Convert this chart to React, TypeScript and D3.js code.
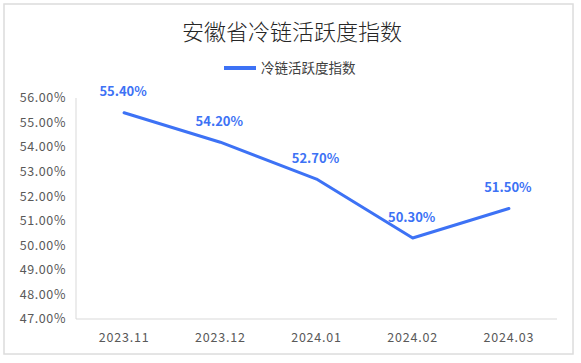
import React from "react";
import * as d3 from "d3";

const categories = ["2023.11", "2023.12", "2024.01", "2024.02", "2024.03"];
const values = [55.4, 54.2, 52.7, 50.3, 51.5];
const yTicks = [47, 48, 49, 50, 51, 52, 53, 54, 55, 56];
const title = "安徽省冷链活跃度指数";
const seriesName = "冷链活跃度指数";

const W = 581;
const H = 363;
const BLUE = "#3d72f5";
const FONT = "'Noto Sans CJK SC', 'Noto Sans', sans-serif";

export default function App() {
  const x = d3.scaleBand<string>().domain(categories).range([76, 557]).padding(0);
  const y = d3.scaleLinear().domain([47, 56]).range([319, 98]);
  const cx = (c: string) => (x(c) ?? 0) + x.bandwidth() / 2;
  const line = d3
    .line<number>()
    .x((_, i) => cx(categories[i]))
    .y((d) => y(d));

  return (
    <div style={{ position: "absolute", left: 0, top: 0, width: W, height: H, background: "#fff" }}>
      <svg width={W} height={H} style={{ display: "block", fontFamily: FONT }}>
        <rect x={0} y={0} width={W} height={H} fill="#fff" />
        <rect x={4} y={4} width={569} height={350} fill="#fff" stroke="#dcdcdc" strokeWidth={1.5} />
        <text x={292} y={40} textAnchor="middle" fontSize={22} fontWeight={300} fill="#262626">
          {title}
        </text>
        <line x1={224} x2={256} y1={68} y2={68} stroke={BLUE} strokeWidth={4} />
        <text x={261} y={73} fontSize={13.5} fill="#404040">
          {seriesName}
        </text>
        <line x1={76} x2={76} y1={y(56)} y2={y(47)} stroke="#d9d9d9" strokeWidth={1} />
        <line x1={76} x2={557} y1={y(47)} y2={y(47)} stroke="#d9d9d9" strokeWidth={1} />
        {yTicks.map((t) => (
          <text
            key={t}
            x={66}
            y={y(t)}
            dy="0.35em"
            textAnchor="end"
            fontSize={12.5}
            letterSpacing={0.6}
            fill="#595959"
          >
            {t.toFixed(2) + "%"}
          </text>
        ))}
        {categories.map((c) => (
          <text
            key={c}
            x={cx(c)}
            y={338}
            dy="0.35em"
            textAnchor="middle"
            fontSize={12.5}
            letterSpacing={0.8}
            fill="#595959"
          >
            {c}
          </text>
        ))}
        <path d={line(values) ?? ""} fill="none" stroke={BLUE} strokeWidth={3} strokeLinejoin="round" strokeLinecap="round" />
        {values.map((v, i) => (
          <text
            key={i}
            x={cx(categories[i]) - 1}
            y={y(v) - 21}
            dy="0.35em"
            textAnchor="middle"
            fontSize={13}
            fontWeight="bold"
            fill={BLUE}
          >
            {v.toFixed(2) + "%"}
          </text>
        ))}
      </svg>
    </div>
  );
}
